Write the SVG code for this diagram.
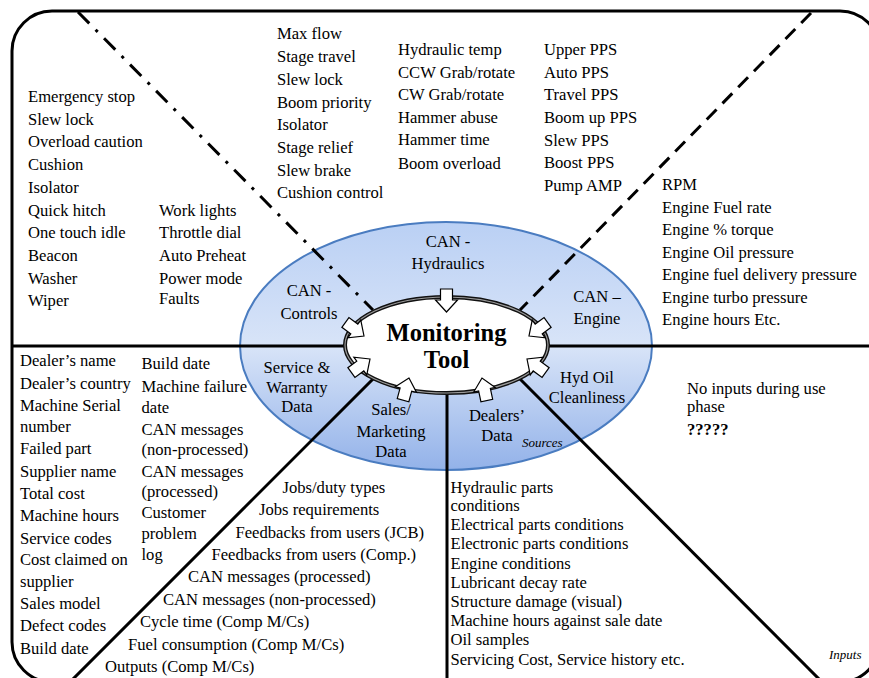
<svg xmlns="http://www.w3.org/2000/svg" xmlns:xlink="http://www.w3.org/1999/xlink" width="869" height="678" viewBox="0 0 869 678">
  <style>
    text { font-family: 'Liberation Serif', 'Times New Roman', serif; fill: #000; }
    .t { font-size: 16.6px; }
    .c { text-anchor: middle; }
    .b { font-weight: bold; }
    .i { font-style: italic; font-size: 13px; }
    .title { font-size: 24.5px; font-weight: bold; text-anchor: middle; }
    .frame { fill: none; stroke: #000; stroke-width: 3; }
    .solid { stroke: #000; stroke-width: 3; fill: none; }
    .dashdot { stroke: #000; stroke-width: 3; fill: none; stroke-dasharray: 16 9 3 9; }
    .dash { stroke: #000; stroke-width: 3; fill: none; stroke-dasharray: 14 8.5; }
    .arrow { fill: #fff; stroke: #000; stroke-width: 1.2; stroke-linejoin: miter; }
  </style>
  <defs>
    <linearGradient id="blueFill" x1="0" y1="0" x2="0" y2="1">
      <stop offset="0" stop-color="#bad0f4"/>
      <stop offset="0.5" stop-color="#d8e4f8"/>
      <stop offset="1" stop-color="#93b2e9"/>
    </linearGradient>
    <!-- block arrow, tip at origin, pointing along +x -->
    <path id="inArrow" class="arrow" d="M0,0 L-12,-11 L-12,-6 L-23,-6 L-23,6 L-12,6 L-12,11 Z"/>
  </defs>

  <rect width="869" height="678" fill="#fff"/>

  <!-- outer frame -->
  <g id="frame">
    <rect class="frame" x="12" y="11" width="868" height="671" rx="40" ry="40"/>
  </g>

  <!-- sources ring -->
  <g id="sources">
    <ellipse cx="446" cy="346" rx="206" ry="124" fill="url(#blueFill)" stroke="#4a7cc0" stroke-width="2"/>
  </g>

  <!-- dividing lines -->
  <g id="connectors">
    <line class="solid" x1="12" y1="346" x2="346" y2="346"/>
    <line class="solid" x1="547" y1="346" x2="880" y2="346"/>
    <line class="dashdot" x1="78" y1="12" x2="373" y2="310"/>
    <line class="dash" x1="811" y1="13" x2="520" y2="310"/>
    <line class="solid" x1="373" y1="379" x2="70" y2="682"/>
    <line class="solid" x1="447" y1="392" x2="447" y2="682"/>
    <line class="solid" x1="520" y1="379" x2="822" y2="682"/>
  </g>

  <!-- central node -->
  <g id="monitoring-tool">
    <ellipse cx="446.5" cy="345" rx="101.5" ry="48" fill="#fff" stroke="#111" stroke-width="4"/>
    <ellipse cx="446.5" cy="345" rx="101.5" ry="48" fill="none" stroke="#9a9a9a" stroke-width="1.2"/>
    <text class="title" x="446.5" y="341">Monitoring</text>
    <text class="title" x="446.5" y="368">Tool</text>
  </g>

  <!-- input arrows -->
  <g id="arrows">
    <use xlink:href="#inArrow" transform="translate(446.5,312) rotate(90)"/>
    <use xlink:href="#inArrow" transform="translate(364,336) rotate(36)"/>
    <use xlink:href="#inArrow" transform="translate(529,336) rotate(144)"/>
    <use xlink:href="#inArrow" transform="translate(370,359) rotate(-36)"/>
    <use xlink:href="#inArrow" transform="translate(527,359) rotate(-144)"/>
    <use xlink:href="#inArrow" transform="translate(409,378) rotate(-75)"/>
    <use xlink:href="#inArrow" transform="translate(482,378) rotate(-102)"/>
  </g>

  <!-- source labels -->
  <g id="can-hydraulics">
    <text class="t c" x="448" y="247">CAN -</text>
    <text class="t c" x="448" y="269">Hydraulics</text>
  </g>
  <g id="can-controls">
    <text class="t c" x="309" y="296">CAN -</text>
    <text class="t c" x="309" y="319">Controls</text>
  </g>
  <g id="can-engine">
    <text class="t c" x="597" y="302">CAN –</text>
    <text class="t c" x="597" y="324">Engine</text>
  </g>
  <g id="service-warranty">
    <text class="t c" x="297" y="373">Service &amp;</text>
    <text class="t c" x="297" y="393">Warranty</text>
    <text class="t c" x="297" y="412">Data</text>
  </g>
  <g id="hyd-oil">
    <text class="t c" x="587" y="383">Hyd Oil</text>
    <text class="t c" x="587" y="403">Cleanliness</text>
  </g>
  <g id="sales-marketing">
    <text class="t c" x="391" y="415">Sales/</text>
    <text class="t c" x="391" y="437">Marketing</text>
    <text class="t c" x="391" y="457">Data</text>
  </g>
  <g id="dealers-data">
    <text class="t c" x="497" y="421">Dealers’</text>
    <text class="t c" x="497" y="441">Data</text>
    <text class="t i" x="522" y="447">Sources</text>
  </g>

  <!-- CAN controls items -->
  <g id="controls-list">
    <text class="t" x="28" y="102">Emergency stop</text>
    <text class="t" x="28" y="124.5">Slew lock</text>
    <text class="t" x="28" y="147">Overload caution</text>
    <text class="t" x="28" y="169.5">Cushion</text>
    <text class="t" x="28" y="192.5">Isolator</text>
    <text class="t" x="28" y="215.5">Quick hitch</text>
    <text class="t" x="28" y="237.5">One touch idle</text>
    <text class="t" x="28" y="260.5">Beacon</text>
    <text class="t" x="28" y="283.5">Washer</text>
    <text class="t" x="28" y="306">Wiper</text>
    <text class="t" x="159" y="215.5">Work lights</text>
    <text class="t" x="159" y="238">Throttle dial</text>
    <text class="t" x="159" y="261">Auto Preheat</text>
    <text class="t" x="159" y="284">Power mode</text>
    <text class="t" x="159" y="303.5">Faults</text>
  </g>

  <!-- CAN hydraulics items -->
  <g id="hydraulics-list">
    <text class="t" x="277" y="38.5">Max flow</text>
    <text class="t" x="277" y="61.5">Stage travel</text>
    <text class="t" x="277" y="84.5">Slew lock</text>
    <text class="t" x="277" y="107.5">Boom priority</text>
    <text class="t" x="277" y="130">Isolator</text>
    <text class="t" x="277" y="152.5">Stage relief</text>
    <text class="t" x="277" y="175.5">Slew brake</text>
    <text class="t" x="277" y="197.5">Cushion control</text>
    <text class="t" x="398" y="54.5">Hydraulic temp</text>
    <text class="t" x="398" y="77.5">CCW Grab/rotate</text>
    <text class="t" x="398" y="100">CW Grab/rotate</text>
    <text class="t" x="398" y="122.5">Hammer abuse</text>
    <text class="t" x="398" y="145">Hammer time</text>
    <text class="t" x="398" y="168.5">Boom overload</text>
    <text class="t" x="544" y="55">Upper PPS</text>
    <text class="t" x="544" y="77.5">Auto PPS</text>
    <text class="t" x="544" y="100">Travel PPS</text>
    <text class="t" x="544" y="122.5">Boom up PPS</text>
    <text class="t" x="544" y="145.5">Slew PPS</text>
    <text class="t" x="544" y="168">Boost PPS</text>
    <text class="t" x="544" y="190.5">Pump AMP</text>
  </g>

  <!-- CAN engine items -->
  <g id="engine-list">
    <text class="t" x="662" y="190">RPM</text>
    <text class="t" x="662" y="212.5">Engine Fuel rate</text>
    <text class="t" x="662" y="235">Engine % torque</text>
    <text class="t" x="662" y="257.5">Engine Oil pressure</text>
    <text class="t" x="662" y="280">Engine fuel delivery pressure</text>
    <text class="t" x="662" y="302.5">Engine turbo pressure</text>
    <text class="t" x="662" y="325">Engine hours Etc.</text>
  </g>

  <!-- service & warranty items -->
  <g id="warranty-list">
    <text class="t" x="20" y="366">Dealer’s name</text>
    <text class="t" x="20" y="388.5">Dealer’s country</text>
    <text class="t" x="20" y="411">Machine Serial</text>
    <text class="t" x="20" y="432">number</text>
    <text class="t" x="20" y="453.5">Failed part</text>
    <text class="t" x="20" y="476.5">Supplier name</text>
    <text class="t" x="20" y="499">Total cost</text>
    <text class="t" x="20" y="521">Machine hours</text>
    <text class="t" x="20" y="543.5">Service codes</text>
    <text class="t" x="20" y="565">Cost claimed on</text>
    <text class="t" x="20" y="586.5">supplier</text>
    <text class="t" x="20" y="608.5">Sales model</text>
    <text class="t" x="20" y="630.5">Defect codes</text>
    <text class="t" x="20" y="653.5">Build date</text>
    <text class="t" x="141.5" y="369">Build date</text>
    <text class="t" x="141.5" y="391.5">Machine failure</text>
    <text class="t" x="141.5" y="413">date</text>
    <text class="t" x="141.5" y="434.5">CAN messages</text>
    <text class="t" x="141.5" y="455">(non-processed)</text>
    <text class="t" x="141.5" y="476.5">CAN messages</text>
    <text class="t" x="141.5" y="496.5">(processed)</text>
    <text class="t" x="141.5" y="518">Customer</text>
    <text class="t" x="141.5" y="538.5">problem</text>
    <text class="t" x="141.5" y="560">log</text>
  </g>

  <!-- sales / marketing items -->
  <g id="sales-list">
    <text class="t" x="282.5" y="492.5">Jobs/duty types</text>
    <text class="t" x="259" y="515">Jobs requirements</text>
    <text class="t" x="235.5" y="537.5">Feedbacks from users (JCB)</text>
    <text class="t" x="211.5" y="560">Feedbacks from users (Comp.)</text>
    <text class="t" x="188" y="582">CAN messages (processed)</text>
    <text class="t" x="163" y="605">CAN messages (non-processed)</text>
    <text class="t" x="140" y="627">Cycle time (Comp M/Cs)</text>
    <text class="t" x="128" y="650">Fuel consumption (Comp M/Cs)</text>
    <text class="t" x="105" y="672">Outputs (Comp M/Cs)</text>
  </g>

  <!-- dealers' data items -->
  <g id="dealers-list">
    <text class="t" x="450.5" y="492.5">Hydraulic parts</text>
    <text class="t" x="450.5" y="511">conditions</text>
    <text class="t" x="450.5" y="530">Electrical parts conditions</text>
    <text class="t" x="450.5" y="549">Electronic parts conditions</text>
    <text class="t" x="450.5" y="568.5">Engine conditions</text>
    <text class="t" x="450.5" y="587.5">Lubricant decay rate</text>
    <text class="t" x="450.5" y="606.5">Structure damage (visual)</text>
    <text class="t" x="450.5" y="626">Machine hours against sale date</text>
    <text class="t" x="450.5" y="645">Oil samples</text>
    <text class="t" x="450.5" y="665">Servicing Cost, Service history etc.</text>
  </g>

  <!-- hyd oil cleanliness items -->
  <g id="oil-list">
    <text class="t" x="687" y="393.5">No inputs during use</text>
    <text class="t" x="687" y="412">phase</text>
    <text class="t b" x="687" y="435">?????</text>
    <text class="t i" x="829" y="658.5">Inputs</text>
  </g>
</svg>
